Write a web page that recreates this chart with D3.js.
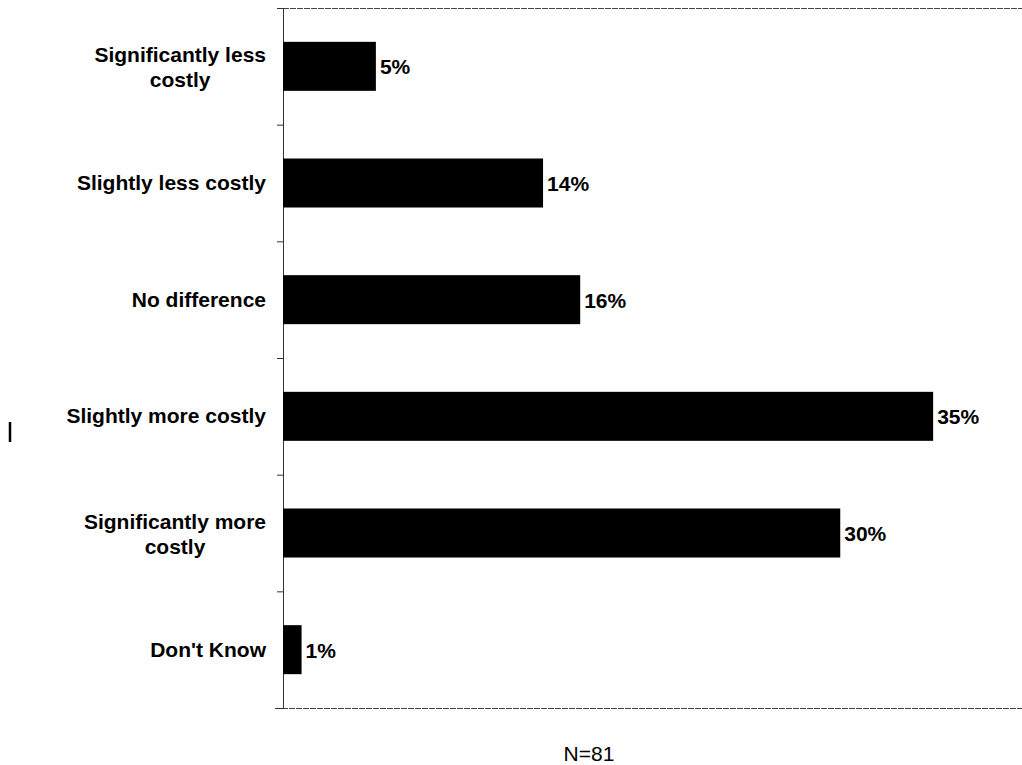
<!DOCTYPE html>
<html>
<head>
<meta charset="utf-8">
<script src="https://cdn.jsdelivr.net/npm/d3@7"></script>
<style>
  body { margin: 0; background: #fff; }
  svg { display: block; }
</style>
</head>
<body>
<div id="chart"></div>
<script>
var width = 1022, height = 765;

// data
var labels = [
  ["Significantly less", "costly"],
  ["Slightly less costly"],
  ["No difference"],
  ["Slightly more costly"],
  ["Significantly more", "costly"],
  ["Don't Know"]
];
var values = [5, 14, 16, 35, 30, 1];
var note = "N=81";

var plotLeft = 283, plotTop = 8, plotBottom = 708;
var font = "'Liberation Sans', Arial, Helvetica, sans-serif";

var svg = d3.select("#chart")
            .append("svg")
            .attr("width", width)
            .attr("height", height);

var x = d3.scaleLinear()
          .domain([0, 40])
          .range([plotLeft, 1026]);

var y = d3.scaleBand()
          .domain(d3.range(values.length))
          .range([plotTop, plotBottom])
          .paddingInner(0.58)
          .paddingOuter(0.29);

// tick marks at the category boundaries
var yb = d3.scaleLinear()
           .domain([0, values.length])
           .range([plotTop, plotBottom]);

// top and bottom frame lines
svg.append("line")
   .attr("x1", plotLeft).attr("x2", width)
   .attr("y1", plotTop + 0.5).attr("y2", plotTop + 0.5)
   .attr("stroke", "#444").attr("stroke-width", 1)
   .attr("stroke-dasharray", "6,1");
svg.append("line")
   .attr("x1", plotLeft - 8).attr("x2", width)
   .attr("y1", plotBottom + 0.5).attr("y2", plotBottom + 0.5)
   .attr("stroke", "#444").attr("stroke-width", 1)
   .attr("stroke-dasharray", "6,1");

var axis = svg.append("g")
              .attr("transform", "translate(" + plotLeft + ",0)")
              .call(d3.axisLeft(yb).tickValues(d3.range(values.length + 1)).tickSize(6).tickFormat(""));
axis.select(".domain").attr("stroke", "#333");
axis.selectAll(".tick line").attr("stroke", "#333");

// bars
svg.selectAll("rect.bar")
   .data(values)
   .enter()
   .append("rect")
   .attr("class", "bar")
   .attr("x", x(0))
   .attr("y", function(d, i) { return y(i); })
   .attr("width", function(d) { return x(d) - x(0); })
   .attr("height", y.bandwidth())
   .attr("fill", "#000");

// value labels
svg.selectAll("text.val")
   .data(values)
   .enter()
   .append("text")
   .attr("class", "val")
   .attr("x", function(d) { return x(d) + 4; })
   .attr("y", function(d, i) { return y(i) + y.bandwidth() / 2 + 8; })
   .text(function(d) { return d + "%"; })
   .attr("font-family", font)
   .attr("font-weight", "bold")
   .attr("font-size", "21px")
   .attr("fill", "#000");

// category labels, right aligned, two-line ones centred on each other
var labelRight = 266;
function addLabel(tx, ty, str, anchor) {
  return svg.append("text")
            .attr("x", tx)
            .attr("y", ty)
            .attr("text-anchor", anchor)
            .text(str)
            .attr("font-family", font)
            .attr("font-weight", "bold")
            .attr("font-size", "21px")
            .attr("fill", "#000");
}
labels.forEach(function(lines, i) {
  var cy = y(i) + y.bandwidth() / 2;
  if (lines.length === 1) {
    addLabel(labelRight, cy + 7, lines[0], "end");
  } else {
    var t1 = addLabel(0, cy - 4, lines[0], "middle");
    var w = t1.node().getComputedTextLength();
    var mid = labelRight - w / 2;
    t1.attr("x", mid);
    addLabel(mid, cy + 21, lines[1], "middle");
  }
});

// sample size note
svg.append("text")
   .attr("x", 589)
   .attr("y", 761)
   .attr("text-anchor", "middle")
   .text(note)
   .attr("font-family", font)
   .attr("font-size", "21px")
   .attr("fill", "#000");

// stray scan mark on the left edge
svg.append("line")
   .attr("x1", 10).attr("x2", 10)
   .attr("y1", 422).attr("y2", 442)
   .attr("stroke", "#000").attr("stroke-width", 2.5);
</script>
</body>
</html>
